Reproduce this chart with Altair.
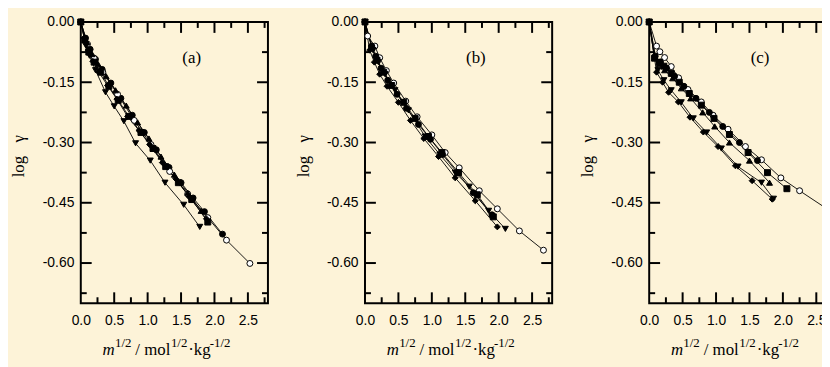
import altair as alt
import pandas as pd

BG = "#FDF3D8"
W, H = 189, 284

# ---------------- data ----------------
# panel (a)
a_fcircle_x = [0, 0.07, 0.14, 0.22, 0.32, 0.45, 0.60, 0.77, 0.95, 1.13, 1.32, 1.50, 1.68, 1.85, 2.12]
a_fcircle_y = [0, -0.040, -0.068, -0.093, -0.118, -0.152, -0.190, -0.232, -0.275, -0.318, -0.362, -0.400, -0.438, -0.472, -0.528]
a_ocircle_x = [0, 0.10, 0.20, 0.33, 0.55, 0.80, 1.05, 1.33, 1.60, 1.90, 2.18, 2.53]
a_ocircle_y = [0, -0.055, -0.090, -0.125, -0.180, -0.245, -0.305, -0.372, -0.428, -0.487, -0.543, -0.601]
a_square_x = [0, 0.06, 0.12, 0.20, 0.30, 0.42, 0.56, 0.72, 0.90, 1.08, 1.27, 1.46, 1.66, 1.90]
a_square_y = [0, -0.045, -0.075, -0.100, -0.125, -0.160, -0.195, -0.235, -0.275, -0.315, -0.360, -0.400, -0.442, -0.498]
a_diamond_x = [0, 0.05, 0.11, 0.18, 0.27, 0.40, 0.54, 0.70, 0.87, 1.03, 1.22, 1.42, 1.62, 1.88]
a_diamond_y = [0, -0.040, -0.070, -0.098, -0.125, -0.158, -0.192, -0.235, -0.270, -0.305, -0.350, -0.390, -0.435, -0.490]
a_triup_x = [0, 0.09, 0.17, 0.26, 0.38, 0.52, 0.68, 0.85, 1.02, 1.20, 1.40, 1.60, 1.80]
a_triup_y = [0, -0.050, -0.080, -0.105, -0.135, -0.170, -0.208, -0.250, -0.290, -0.335, -0.380, -0.425, -0.470]
a_tridown_x = [0, 0.08, 0.13, 0.22, 0.37, 0.50, 0.645, 0.82, 1.04, 1.26, 1.54, 1.78]
a_tridown_y = [0, -0.060, -0.084, -0.120, -0.175, -0.210, -0.247, -0.302, -0.345, -0.400, -0.455, -0.510]

# panel (b)
b_ocircle_x = [0, 0.04, 0.148, 0.22, 0.32, 0.43, 0.61, 0.78, 1.00, 1.20, 1.41, 1.71, 1.98, 2.31, 2.67]
b_ocircle_y = [0, -0.035, -0.060, -0.089, -0.121, -0.152, -0.197, -0.236, -0.281, -0.325, -0.363, -0.420, -0.465, -0.520, -0.568]
b_fcircle_x = [0, 0.10, 0.16, 0.24, 0.34, 0.48, 0.62, 0.80, 0.98, 1.16, 1.38, 1.62, 1.90]
b_fcircle_y = [0, -0.060, -0.085, -0.115, -0.145, -0.180, -0.215, -0.255, -0.292, -0.330, -0.375, -0.425, -0.480]
b_diamond_x = [0, 0.07, 0.14, 0.22, 0.33, 0.50, 0.68, 0.88, 1.10, 1.35, 1.65, 1.98]
b_diamond_y = [0, -0.070, -0.100, -0.130, -0.160, -0.200, -0.245, -0.290, -0.335, -0.388, -0.445, -0.510]
b_tridown_x = [0, 0.12, 0.20, 0.30, 0.45, 0.65, 0.90, 1.12, 1.35, 1.56, 1.85, 2.10]
b_tridown_y = [0, -0.070, -0.100, -0.130, -0.170, -0.220, -0.285, -0.330, -0.375, -0.410, -0.470, -0.515]
b_square_x = [0, 0.10, 0.18, 0.28, 0.40, 0.58, 0.75, 0.95, 1.15, 1.40, 1.68, 1.92]
b_square_y = [0, -0.065, -0.095, -0.125, -0.158, -0.200, -0.240, -0.285, -0.325, -0.375, -0.430, -0.485]

# panel (c)
c_ocircle_x = [0, 0.11, 0.16, 0.23, 0.33, 0.44, 0.58, 0.78, 0.955, 1.18, 1.44, 1.68, 1.97, 2.25, 2.64]
c_ocircle_y = [0, -0.060, -0.074, -0.0885, -0.111, -0.139, -0.168, -0.199, -0.232, -0.267, -0.310, -0.343, -0.388, -0.420, -0.463]
c_square_x = [0, 0.08, 0.15, 0.22, 0.33, 0.45, 0.60, 0.78, 0.97, 1.20, 1.48, 1.77, 2.06]
c_square_y = [0, -0.090, -0.100, -0.110, -0.128, -0.150, -0.178, -0.207, -0.240, -0.280, -0.325, -0.375, -0.415]
c_triup_x = [0, 0.08, 0.15, 0.23, 0.35, 0.48, 0.62, 0.80, 0.98, 1.20, 1.50, 1.80]
c_triup_y = [0, -0.090, -0.105, -0.120, -0.140, -0.165, -0.190, -0.225, -0.260, -0.300, -0.345, -0.400]
c_fcircle_x = [0, 0.09, 0.17, 0.26, 0.38, 0.52, 0.70, 0.90, 1.10, 1.35, 1.62]
c_fcircle_y = [0, -0.085, -0.100, -0.115, -0.135, -0.160, -0.190, -0.225, -0.260, -0.300, -0.345]
c_diamond_x = [0, 0.11, 0.20, 0.29, 0.436, 0.61, 0.81, 1.03, 1.29, 1.54, 1.84]
c_diamond_y = [0, -0.125, -0.150, -0.175, -0.199, -0.237, -0.274, -0.310, -0.358, -0.395, -0.441]
c_tridown_x = [0, 0.13, 0.22, 0.33, 0.48, 0.66, 0.86, 1.08, 1.33, 1.68, 1.86]
c_tridown_y = [0, -0.120, -0.145, -0.170, -0.200, -0.240, -0.275, -0.315, -0.360, -0.400, -0.440]

panel_labels = ["(a)", "(b)", "(c)"]
x_tick_labels = [0, 0.5, 1.0, 1.5, 2.0, 2.5]
x_minor = [0.25, 0.75, 1.25, 1.75, 2.25, 2.75]
y_tick_labels = [0, -0.15, -0.30, -0.45, -0.60]
y_minor = [-0.075, -0.225, -0.375, -0.525, -0.675]

series_names = ["fcircle", "ocircle", "square", "diamond", "triup", "tridown"]
series_shapes = ["circle", "circle", "square", "diamond", "triangle-up", "triangle-down"]
series_fills = ["black", "white", "black", "black", "black", "black"]
series_sizes = [36, 36, 40, 60, 45, 45]

panels = {
    "a": [("fcircle", a_fcircle_x, a_fcircle_y), ("ocircle", a_ocircle_x, a_ocircle_y),
          ("square", a_square_x, a_square_y), ("diamond", a_diamond_x, a_diamond_y),
          ("triup", a_triup_x, a_triup_y), ("tridown", a_tridown_x, a_tridown_y)],
    "b": [("ocircle", b_ocircle_x, b_ocircle_y), ("fcircle", b_fcircle_x, b_fcircle_y),
          ("diamond", b_diamond_x, b_diamond_y), ("tridown", b_tridown_x, b_tridown_y),
          ("square", b_square_x, b_square_y)],
    "c": [("ocircle", c_ocircle_x, c_ocircle_y), ("square", c_square_x, c_square_y),
          ("triup", c_triup_x, c_triup_y), ("fcircle", c_fcircle_x, c_fcircle_y),
          ("diamond", c_diamond_x, c_diamond_y), ("tridown", c_tridown_x, c_tridown_y)],
}

XS = alt.Scale(domain=[0, 2.8], nice=False, zero=False)
YS = alt.Scale(domain=[-0.7, 0], nice=False, zero=False)

SERIF = "Times New Roman, Liberation Serif, Times, serif"
SANS = "Arial, Liberation Sans, Helvetica, sans-serif"
MAJ, MIN = 11, 6

XAX = alt.Axis(values=x_tick_labels, format=".1f", ticks=False, domain=False, grid=False, labelPadding=10,
               labelFont=SANS, labelFontSize=14, labelColor="black", title=None, labelFlush=False,
               labelOverlap=False)
YAX = alt.Axis(values=y_tick_labels, ticks=False, domain=False, grid=False,
               labelExpr="datum.value < 0 ? '-' + format(-datum.value, '.2f') : format(datum.value, '.2f')",
               labelPadding=7, labelFont=SANS, labelFontSize=14, labelColor="black", title=None,
               labelFlush=False, labelOverlap=False)


def one(rows):
    return alt.Data(values=rows)


def panel(key, label):
    rows = []
    for name, xs, ys in panels[key]:
        for i, (xv, yv) in enumerate(zip(xs, ys)):
            rows.append({"series": name, "x": xv, "y": yv, "o": i})
    df = pd.DataFrame(rows)

    lines = alt.Chart(df).mark_line(color="black", strokeWidth=0.9).encode(
        x=alt.X("x:Q", scale=XS, axis=XAX), y=alt.Y("y:Q", scale=YS, axis=YAX),
        detail="series:N", order="o:Q")
    pts = alt.Chart(df).mark_point(filled=True, stroke="black", strokeWidth=1, opacity=1).encode(
        x=alt.X("x:Q", scale=XS, axis=XAX), y=alt.Y("y:Q", scale=YS, axis=YAX),
        shape=alt.Shape("series:N", scale=alt.Scale(domain=series_names, range=series_shapes), legend=None),
        fill=alt.Fill("series:N", scale=alt.Scale(domain=series_names, range=series_fills), legend=None),
        size=alt.Size("series:N", scale=alt.Scale(domain=series_names, range=series_sizes), legend=None),
    )

    xmaj = pd.DataFrame({"x": x_tick_labels[1:]})
    xmin = pd.DataFrame({"x": x_minor})
    ymaj = pd.DataFrame({"y": y_tick_labels[1:]})
    ymin = pd.DataFrame({"y": y_minor})
    tick_layers = []
    for d, L in ((xmaj, MAJ), (xmin, MIN)):
        tick_layers.append(alt.Chart(d).mark_rule(color="black", strokeWidth=2).encode(
            x=alt.X("x:Q", scale=XS, axis=XAX), y=alt.value(0), y2=alt.value(L)))
        tick_layers.append(alt.Chart(d).mark_rule(color="black", strokeWidth=2).encode(
            x=alt.X("x:Q", scale=XS, axis=XAX), y=alt.value(H), y2=alt.value(H - L)))
    for d, L in ((ymaj, MAJ), (ymin, MIN)):
        tick_layers.append(alt.Chart(d).mark_rule(color="black", strokeWidth=2).encode(
            y=alt.Y("y:Q", scale=YS, axis=YAX), x=alt.value(0), x2=alt.value(L)))
        tick_layers.append(alt.Chart(d).mark_rule(color="black", strokeWidth=2).encode(
            y=alt.Y("y:Q", scale=YS, axis=YAX), x=alt.value(W), x2=alt.value(W - L)))

    lab = alt.Chart(one([{"t": label}])).mark_text(font=SERIF, fontSize=17, color="black",
                                                   align="center", baseline="middle").encode(
        text="t:N", x=alt.value(112), y=alt.value(36))

    ylog = alt.Chart(one([{"t": "log"}])).mark_text(font=SERIF, fontSize=17, color="black", angle=270,
                                                    align="center", baseline="middle").encode(
        text="t:N", x=alt.value(-62), y=alt.value(146))
    ygam = alt.Chart(one([{"t": "γ"}])).mark_text(font=SERIF, fontSize=17, color="black", angle=270,
                                                  align="center", baseline="middle").encode(
        text="t:N", x=alt.value(-62), y=alt.value(118))

    x0 = 22
    base, sup = 336, 328
    pieces = [
        ("m", x0, base, 17, "italic"),
        ("1/2", x0 + 12.5, sup, 13, "normal"),
        ("/ mol", x0 + 33, base, 17, "normal"),
        ("1/2", x0 + 69, sup, 13, "normal"),
        ("·kg", x0 + 86.5, base, 17, "normal"),
        ("-1/2", x0 + 108.3, sup, 13, "normal"),
    ]
    xt = []
    for t, px, py, fs, st in pieces:
        xt.append(alt.Chart(one([{"t": t}])).mark_text(font=SERIF, fontSize=fs, fontStyle=st, color="black",
                                                       align="left", baseline="alphabetic").encode(
            text="t:N", x=alt.value(px), y=alt.value(py)))

    return alt.layer(lines, *tick_layers, pts, lab, ylog, ygam, *xt).properties(width=W, height=H)


PAD_L, PAD_T = 73.5, 11
chart = alt.hconcat(panel("a", "(a)"), panel("b", "(b)"), panel("c", "(c)"), spacing=24).properties(
    autosize=alt.AutoSizeParams(type="none"),
    padding={"left": PAD_L, "top": PAD_T, "right": 822 - PAD_L, "bottom": 351 - PAD_T},
).configure(background=BG).configure_view(stroke="black", strokeWidth=2)

chart.save("out.html", embed_options={"renderer": "svg", "actions": False})
